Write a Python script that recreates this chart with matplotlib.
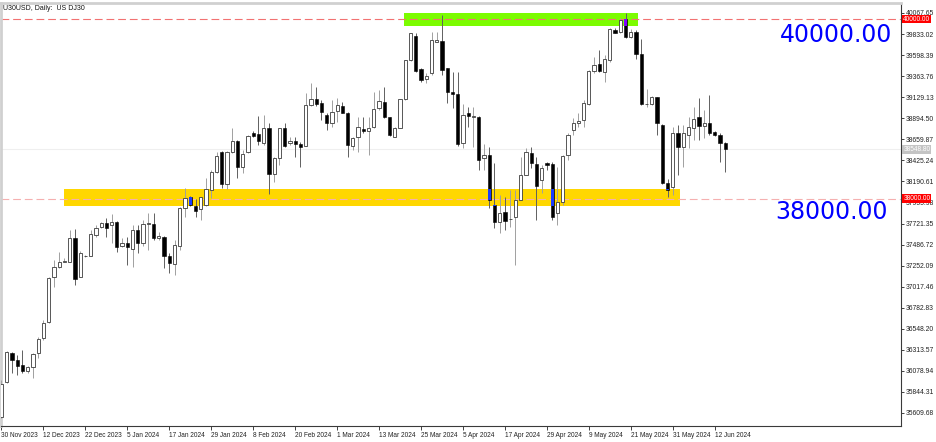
import matplotlib
matplotlib.use("Agg")
import matplotlib.pyplot as plt
import matplotlib.transforms as mtransforms
import numpy as np

# U30USD daily candles, 30 Nov 2023 .. 14 Jun 2024
opens = [35565, 35955, 36278, 36200, 36145, 36078, 36122, 36278, 36445, 36624,
         37125, 37237, 37298, 37296, 37560, 37129, 37354, 37359, 37593, 37683,
         37730, 37705, 37742, 37471, 37508, 37434, 37649, 37508, 37713, 37713,
         37557, 37574, 37363, 37267, 37474, 37898, 38014, 37920, 37883, 37928,
         38095, 38299, 38522, 38158, 38522, 38644, 38355, 38515, 38727, 38719,
         38622, 38783, 38273, 38452, 38783, 38615, 38641, 38608, 38589, 39042,
         39109, 39061, 38931, 38845, 38979, 39031, 38956, 38585, 38682, 38771,
         38752, 38800, 39005, 39072, 38905, 38689, 38786, 39106, 39544, 39811,
         39444, 39329, 39396, 39748, 39759, 39451, 39191, 39165, 38622, 38956,
         38912, 38912, 38448, 38485, 37928, 37742, 37846, 37768, 37791, 37984,
         38262, 38504, 38385, 38206, 38392, 38385, 37835, 37965, 38485, 38764,
         38838, 38875, 39053, 39425, 39499, 39413, 39544, 39878, 39859, 39997,
         39797, 39859, 39611, 39050, 39053, 39128, 38819, 38170, 38125, 38727,
         38578, 38708, 38783, 38912, 38808, 38845, 38738, 38708, 38622]
highs = [35977, 36301, 36289, 36256, 36312, 36133, 36278, 36457, 36646, 37125,
         37315, 37404, 37337, 37649, 37660, 37415, 37370, 37649, 37705, 37742,
         37783, 37827, 37749, 37560, 37574, 37705, 37705, 37761, 37838, 37835,
         37627, 37582, 37393, 37538, 37909, 38114, 38028, 37995, 38020, 38225,
         38318, 38522, 38530, 38530, 38789, 38652, 38541, 38708, 38756, 38920,
         38931, 38838, 38466, 38786, 38838, 38689, 38689, 38633, 39176, 39284,
         39246, 39098, 38950, 39098, 39117, 39079, 38968, 38689, 38912, 38912,
         38912, 39190, 39209, 39246, 38912, 38800, 39109, 39544, 39848, 39841,
         39451, 39396, 39859, 39859, 40045, 39455, 39413, 39410, 39053, 39023,
         39023, 38920, 38604, 38578, 38392, 38039, 38020, 38095, 38095, 38466,
         38560, 38578, 38463, 38373, 38407, 38404, 38355, 38485, 38727, 38894,
         38950, 39098, 39432, 39581, 39655, 39600, 39897, 39897, 40009, 40071,
         39886, 39878, 39774, 39217, 39143, 39131, 38830, 38218, 38800, 38819,
         38819, 38912, 39023, 39117, 38986, 39154, 38752, 38730, 38633]
lows = [35554, 35944, 36055, 36033, 36055, 36055, 36000, 36223, 36423, 36613,
        37014, 37230, 37292, 37292, 37036, 37125, 37348, 37355, 37571, 37668,
        37574, 37504, 37407, 37460, 37259, 37240, 37393, 37471, 37426, 37538,
        37538, 37222, 37166, 37148, 37426, 37797, 37917, 37797, 37761, 37917,
        38002, 38281, 38114, 38106, 38504, 38225, 38281, 38504, 38689, 38596,
        38596, 38050, 38187, 38374, 38578, 38596, 38466, 38355, 38585, 39031,
        39031, 38875, 38764, 38800, 38856, 38950, 38466, 38541, 38522, 38727,
        38485, 38783, 38986, 38894, 38697, 38682, 38783, 39098, 39533, 39413,
        39302, 39284, 39377, 39744, 39377, 39061, 39005, 38585, 38560, 38800,
        38578, 38318, 38318, 37891, 37668, 37612, 37649, 37686, 37259, 37978,
        38257, 38337, 37761, 38058, 38318, 37761, 37705, 37928, 38429, 38708,
        38800, 38800, 39042, 39402, 39413, 39302, 39525, 39841, 39841, 39786,
        39786, 39552, 39042, 39023, 39042, 38708, 38162, 38020, 38039, 38262,
        38355, 38560, 38652, 38652, 38671, 38708, 38697, 38410, 38299]
closes = [35933, 36289, 36200, 36133, 36078, 36122, 36267, 36434, 36613, 37114,
          37237, 37292, 37304, 37557, 37103, 37389, 37359, 37605, 37671, 37730,
          37675, 37735, 37463, 37501, 37463, 37649, 37508, 37713, 37716, 37557,
          37582, 37363, 37285, 37482, 37891, 38002, 37928, 37864, 38014, 38106,
          38299, 38474, 38158, 38522, 38644, 38355, 38496, 38697, 38700, 38641,
          38783, 38273, 38448, 38783, 38585, 38644, 38604, 38571, 39042, 39106,
          39050, 38968, 38838, 38968, 39039, 38956, 38596, 38678, 38794, 38752,
          38789, 38998, 39087, 38912, 38708, 38789, 39106, 39544, 39841, 39425,
          39321, 39365, 39767, 39767, 39432, 39191, 39165, 38604, 38931, 38923,
          38916, 38429, 38485, 37984, 37742, 37835, 37753, 37775, 37984, 38262,
          38522, 38392, 38143, 38337, 38373, 37797, 37965, 38477, 38708, 38838,
          38867, 39061, 39425, 39488, 39425, 39552, 39886, 39848, 39990, 39804,
          39859, 39607, 39050, 39057, 39128, 38838, 38170, 38095, 38727, 38578,
          38727, 38800, 38883, 38808, 38845, 38727, 38708, 38622, 38548.8]

date_labels = ["30 Nov 2023", "12 Dec 2023", "22 Dec 2023", "5 Jan 2024", "17 Jan 2024",
               "29 Jan 2024", "8 Feb 2024", "20 Feb 2024", "1 Mar 2024", "13 Mar 2024",
               "25 Mar 2024", "5 Apr 2024", "17 Apr 2024", "29 Apr 2024", "9 May 2024",
               "21 May 2024", "31 May 2024", "12 Jun 2024"]

price_ticks = [40067.65, 39833.02, 39598.39, 39363.76, 39129.13, 38894.50, 38659.87,
               38425.24, 38190.61, 37955.98, 37721.35, 37486.72, 37252.09, 37017.46,
               36782.83, 36548.20, 36313.57, 36078.94, 35844.31, 35609.68]

level_top = 40000.0
level_bottom = 38000.0
# supply / demand boxes: (price low, price high, first bar, last bar)
green_zone = (39926, 40071, 76.7, 121.4)
yellow_zone = (37920, 38106, 11.9, 129.4)


def main():
    plt.rcParams['font.family'] = ['Liberation Sans', 'DejaVu Sans']
    fig = plt.figure(figsize=(9.36, 4.42), dpi=100)
    ax = fig.add_axes([1 / 936, 16 / 442, 900 / 936, 423 / 442])

    x = np.arange(len(opens))
    o = np.array(opens, dtype=float)
    h = np.array(highs, dtype=float)
    lo = np.array(lows, dtype=float)
    c = np.array(closes, dtype=float)
    up = c >= o

    # zones
    for zlo, zhi, x0, x1, col in [(*green_zone, "#7cfc00"), (*yellow_zone, "#ffd700")]:
        ax.fill_between([x0, x1], zlo, zhi, color=col, lw=0, zorder=1)

    # levels and current price line
    ax.axhline(level_top, color="#f27272", lw=0.8, ls=(0, (7, 3.5)), zorder=2)
    ax.axhline(level_bottom, color="#f5b0b0", lw=0.8, ls=(0, (7, 3.5)), zorder=2)
    ax.axhline(c[-1], color="#efefef", lw=0.8, zorder=0.5)

    # candles
    ax.vlines(x[up], lo[up], h[up], color="#a0a0a0", lw=0.7, zorder=3)
    ax.vlines(x[~up], lo[~up], h[~up], color="#606060", lw=0.7, zorder=3)
    body_lo = np.minimum(o, c)
    body_h = np.maximum(np.abs(c - o), 9)
    ax.bar(x[up], body_h[up], bottom=body_lo[up], width=0.62, color="white",
           edgecolor="#3c3c3c", lw=0.6, zorder=4)
    ax.bar(x[~up], body_h[~up], bottom=body_lo[~up], width=0.62, color="black",
           edgecolor="black", lw=0.4, zorder=4)

    # black bodies inside the boxes show up inverted (blue / purple)
    for zlo, zhi, x0, x1, col in [(*green_zone, "#8000ff"), (*yellow_zone, "#1a3cff")]:
        sel = (~up) & (x >= x0) & (x <= x1)
        b0 = np.maximum(c[sel], zlo)
        b1 = np.minimum(o[sel], zhi)
        ok = b1 > b0
        ax.bar(x[sel][ok], (b1 - b0)[ok], bottom=b0[ok], width=0.62, color=col,
               lw=0, zorder=5)

    ax.text(159.1, 39828, "40000.00", color="blue", fontsize=17,
            family="DejaVu Sans", ha="center", va="center", zorder=6)
    ax.text(158.2, 37850, "38000.00", color="blue", fontsize=17,
            family="DejaVu Sans", ha="center", va="center", zorder=6)

    ax.set_xlim(-0.095, 171.52)
    ax.set_ylim(35464.7, 40179.1)

    # axes look
    for side in ["top", "left"]:
        ax.spines[side].set_color("#d0d0d0")
        ax.spines[side].set_linewidth(2)
    for side in ["right", "bottom"]:
        ax.spines[side].set_color("#3a3a3a")
        ax.spines[side].set_linewidth(0.8)

    ax.yaxis.tick_right()
    ax.set_yticks(price_ticks)
    ax.set_yticklabels([f"{v:.2f}" for v in price_ticks])
    ax.tick_params(axis="y", length=2, width=0.6, pad=1.5, labelsize=4.9, colors="#222222")

    ax.set_xticks(np.arange(len(date_labels)) * 8)
    ax.set_xticklabels(date_labels)
    ax.tick_params(axis="x", length=3, width=0.6, pad=1.5, labelsize=4.7, colors="#222222")
    plt.setp(ax.get_xticklabels(), ha="left")

    # price boxes on the scale
    trans = mtransforms.blended_transform_factory(ax.transAxes, ax.transData)
    for val, bg in [(level_top, "#ff0000"), (level_bottom, "#ff0000"), (c[-1], "#c4c4c4")]:
        ax.text(1.0025, val, f"{val:.2f}", transform=trans, color="white", fontsize=4.7,
                ha="left", va="center", clip_on=False, zorder=7,
                bbox=dict(boxstyle="square,pad=0.12", fc=bg, ec="none"))

    fig.text(3 / 936, 1 - 8 / 442, "U30USD, Daily:  US DJ30", fontsize=5,
             ha="left", va="center", color="#111111")

    fig.savefig("out.png", dpi=100)


if __name__ == '__main__':
    main()
